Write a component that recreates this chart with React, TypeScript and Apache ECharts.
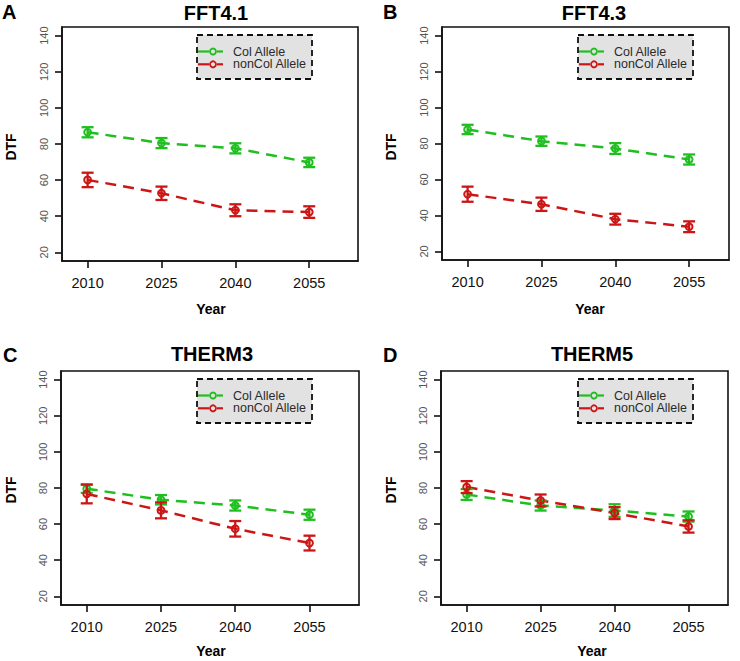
import React, { useEffect, useRef } from "react";
import * as echarts from "echarts";

const years = [2010, 2025, 2040, 2055];
const yTicks = [20, 40, 60, 80, 100, 120, 140];

const fft41Col = [86.5, 80.5, 77.6, 69.8];
const fft41ColErr = [2.8, 2.8, 2.8, 2.6];
const fft41NonCol = [60.1, 52.7, 43.3, 42.3];
const fft41NonColErr = [4.0, 3.7, 3.3, 3.2];

const fft43Col = [87.8, 81.3, 77.2, 71.1];
const fft43ColErr = [2.6, 2.6, 3.0, 2.8];
const fft43NonCol = [51.8, 46.2, 37.9, 33.7];
const fft43NonColErr = [4.2, 3.7, 3.0, 3.0];

const therm3Col = [79.6, 73.5, 70.3, 65.2];
const therm3ColErr = [2.3, 2.6, 2.8, 2.8];
const therm3NonCol = [76.7, 67.6, 57.4, 49.5];
const therm3NonColErr = [5.2, 4.4, 4.3, 4.1];

const therm5Col = [76.4, 70.3, 67.5, 64.2];
const therm5ColErr = [3.0, 2.8, 3.5, 2.8];
const therm5NonCol = [80.5, 73.1, 66.1, 58.7];
const therm5NonColErr = [3.3, 3.3, 3.3, 3.4];

const seriesNames = ["Col Allele", "nonCol Allele"];
const GREEN = "#1fbf1f";
const RED = "#cc1616";
const FONT = "Liberation Sans, Arial, sans-serif";

const panels = [
  {
    letter: "A", title: "FFT4.1",
    col: fft41Col, colErr: fft41ColErr, non: fft41NonCol, nonErr: fft41NonColErr,
    grid: { left: 62, top: 27, width: 296, height: 234 }, xMax: 2064.9,
    letterPos: [2, 12], titlePos: [216, 13], dtfPos: [11, 147], yearPos: [211, 309],
    legend: [197, 35],
  },
  {
    letter: "B", title: "FFT4.3",
    col: fft43Col, colErr: fft43ColErr, non: fft43NonCol, nonErr: fft43NonColErr,
    grid: { left: 442, top: 27, width: 287, height: 233 }, xMax: 2063.1,
    letterPos: [383, 12], titlePos: [594, 13], dtfPos: [391, 147], yearPos: [590, 309],
    legend: [578, 35],
  },
  {
    letter: "C", title: "THERM3",
    col: therm3Col, colErr: therm3ColErr, non: therm3NonCol, nonErr: therm3NonColErr,
    grid: { left: 61, top: 371, width: 298, height: 234 }, xMax: 2065.0,
    letterPos: [3, 355], titlePos: [212, 354], dtfPos: [11, 490], yearPos: [211, 651],
    legend: [197, 379],
  },
  {
    letter: "D", title: "THERM5",
    col: therm5Col, colErr: therm5ColErr, non: therm5NonCol, nonErr: therm5NonColErr,
    grid: { left: 441, top: 371, width: 287, height: 234 }, xMax: 2063.0,
    letterPos: [383, 355], titlePos: [592, 354], dtfPos: [391, 490], yearPos: [592, 651],
    legend: [578, 379],
  },
];

function errRender(color: string) {
  return (params: any, api: any) => {
    const x = api.value(0);
    const y = api.value(1);
    const e = api.value(2);
    const c = api.coord([x, y]);
    const hi = api.coord([x, y + e]);
    const lo = api.coord([x, y - e]);
    const hw = 6;
    const st = { stroke: color, lineWidth: 2.3 };
    return {
      type: "group",
      children: [
        { type: "line", shape: { x1: c[0], y1: hi[1], x2: c[0], y2: lo[1] }, style: st },
        { type: "line", shape: { x1: c[0] - hw, y1: hi[1], x2: c[0] + hw, y2: hi[1] }, style: st },
        { type: "line", shape: { x1: c[0] - hw, y1: lo[1], x2: c[0] + hw, y2: lo[1] }, style: st },
        { type: "circle", shape: { cx: c[0], cy: c[1], r: 3.4 }, style: { fill: "none", stroke: color, lineWidth: 2 } },
      ],
    };
  };
}

function legendGraphics(x: number, y: number) {
  const w = 115;
  const h = 44;
  const items: any[] = [
    {
      type: "rect",
      shape: { x, y, width: w, height: h },
      style: { fill: "#e2e2e2", stroke: "#111", lineWidth: 1.8, lineDash: [6, 4] },
      z: 10,
    },
  ];
  const colors = [GREEN, RED];
  seriesNames.forEach((name, i) => {
    const cy = y + 16.5 + i * 12.8;
    const c = colors[i];
    items.push(
      { type: "line", shape: { x1: x + 1, y1: cy, x2: x + 12, y2: cy }, style: { stroke: c, lineWidth: 2.2 }, z: 11 },
      { type: "line", shape: { x1: x + 20, y1: cy, x2: x + 26, y2: cy }, style: { stroke: c, lineWidth: 2.2 }, z: 11 },
      { type: "circle", shape: { cx: x + 16, cy, r: 3 }, style: { fill: "none", stroke: c, lineWidth: 1.8 }, z: 11 },
      {
        type: "text", x: x + 36, y: cy,
        style: { text: name, font: `12.5px ${FONT}`, fill: "#2a2a2a", textVerticalAlign: "middle", textAlign: "left" },
        z: 11,
      }
    );
  });
  return items;
}

export default function App() {
  const ref = useRef<HTMLDivElement>(null);

  useEffect(() => {
    document.body.style.margin = "0";
    if (!ref.current) return;
    const chart = echarts.init(ref.current, undefined, { renderer: "svg" });

    const grids: any[] = [];
    const xAxes: any[] = [];
    const yAxes: any[] = [];
    const series: any[] = [];
    const graphics: any[] = [];

    panels.forEach((p, i) => {
      grids.push({ ...p.grid, show: true, borderColor: "#111", borderWidth: 1.6, backgroundColor: "transparent" });
      xAxes.push({
        type: "value", gridIndex: i, min: 2004.8, max: p.xMax,
        axisLine: { show: true, onZero: false, lineStyle: { color: "#111", width: 1.6 } },
        axisTick: { show: true, customValues: years, length: 7, inside: false, lineStyle: { color: "#111", width: 1.6 } },
        axisLabel: {
          customValues: years, fontSize: 14.5, fontFamily: FONT, color: "#111", margin: 14,
          formatter: (v: number) => String(Math.round(v)),
        },
        splitLine: { show: false },
      });
      yAxes.push({
        type: "value", gridIndex: i, min: 15.2, max: 144.8,
        axisLine: { show: true, onZero: false, lineStyle: { color: "#111", width: 1.6 } },
        axisTick: { show: true, customValues: yTicks, length: 7, inside: false, lineStyle: { color: "#111", width: 1.6 } },
        axisLabel: {
          customValues: yTicks, rotate: 90, fontSize: 11, fontFamily: FONT, color: "#555", margin: 13,
          formatter: (v: number) => String(Math.round(v)),
        },
        splitLine: { show: false },
      });
      const sets = [
        { vals: p.col, errs: p.colErr, color: GREEN, name: seriesNames[0] },
        { vals: p.non, errs: p.nonErr, color: RED, name: seriesNames[1] },
      ];
      sets.forEach((s) => {
        series.push({
          type: "line", name: s.name, xAxisIndex: i, yAxisIndex: i,
          data: years.map((yr, k) => [yr, s.vals[k]]),
          showSymbol: false, symbol: "none",
          lineStyle: { color: s.color, width: 2.5, type: [11, 7] },
          z: 3,
        });
        series.push({
          type: "custom", name: s.name + " err", xAxisIndex: i, yAxisIndex: i,
          data: years.map((yr, k) => [yr, s.vals[k], s.errs[k]]),
          renderItem: errRender(s.color),
          z: 4,
        });
      });
      graphics.push(
        {
          type: "text", x: p.letterPos[0], y: p.letterPos[1],
          style: { text: p.letter, font: `bold 20px ${FONT}`, fill: "#000", textVerticalAlign: "middle", textAlign: "left" },
        },
        {
          type: "text", x: p.titlePos[0], y: p.titlePos[1],
          style: { text: p.title, font: `bold 20px ${FONT}`, fill: "#000", textVerticalAlign: "middle", textAlign: "center" },
        },
        {
          type: "text", x: p.dtfPos[0], y: p.dtfPos[1], rotation: Math.PI / 2,
          style: { text: "DTF", font: `bold 14px ${FONT}`, fill: "#000", textVerticalAlign: "middle", textAlign: "center" },
        },
        {
          type: "text", x: p.yearPos[0], y: p.yearPos[1],
          style: { text: "Year", font: `bold 14px ${FONT}`, fill: "#000", textVerticalAlign: "middle", textAlign: "center" },
        },
        ...legendGraphics(p.legend[0], p.legend[1])
      );
    });

    chart.setOption({
      animation: false,
      backgroundColor: "#fff",
      grid: grids,
      xAxis: xAxes,
      yAxis: yAxes,
      series,
      graphic: graphics,
    });

    return () => chart.dispose();
  }, []);

  return <div ref={ref} style={{ width: 740, height: 661 }} />;
}
